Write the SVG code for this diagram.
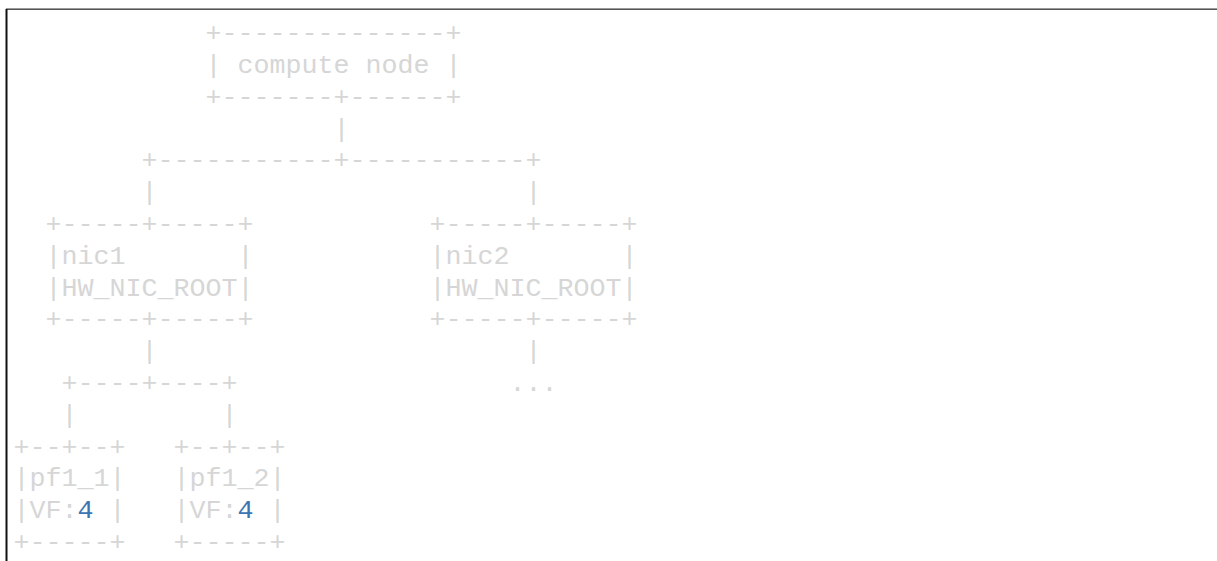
<svg xmlns="http://www.w3.org/2000/svg" width="1217" height="561" viewBox="0 0 1217 561">
<style>
.t{font-family:"Liberation Mono","Courier New",monospace;font-size:26.67px;fill:#d6d6d6;white-space:pre}
.n{fill:#3b76b2}
</style>
<rect x="0" y="0" width="1217" height="561" fill="#ffffff"/>
<line x1="6" y1="8.5" x2="1217" y2="8.5" stroke="#9a9a9a" stroke-width="1"/>
<line x1="6" y1="9.5" x2="1217" y2="9.5" stroke="#555555" stroke-width="1"/>
<line x1="6.5" y1="9" x2="6.5" y2="561" stroke="#111111" stroke-width="2"/>
<g id="connectors">
<text class="t" xml:space="preserve" x="13.5" y="136.6">                    |</text>
<text class="t" xml:space="preserve" x="13.5" y="168.4">        +-----------+-----------+</text>
<text class="t" xml:space="preserve" x="13.5" y="200.2">        |                       |</text>
<text class="t" xml:space="preserve" x="13.5" y="359.2">        |                       |</text>
<text class="t" xml:space="preserve" x="13.5" y="391">   +----+----+                 ...</text>
<text class="t" xml:space="preserve" x="13.5" y="422.8">   |         |</text>
</g>
<g id="compute-node">
<text class="t" xml:space="preserve" x="13.5" y="41.2">            +--------------+</text>
<text class="t" xml:space="preserve" x="13.5" y="73">            | compute node |</text>
<text class="t" xml:space="preserve" x="13.5" y="104.8">            +-------+------+</text>
</g>
<g id="nic1">
<text class="t" xml:space="preserve" x="13.5" y="232">  +-----+-----+</text>
<text class="t" xml:space="preserve" x="13.5" y="263.8">  |nic1       |</text>
<text class="t" xml:space="preserve" x="13.5" y="295.6">  |HW_NIC_ROOT|</text>
<text class="t" xml:space="preserve" x="13.5" y="327.4">  +-----+-----+</text>
</g>
<g id="nic2">
<text class="t" xml:space="preserve" x="429.5" y="232">+-----+-----+</text>
<text class="t" xml:space="preserve" x="429.5" y="263.8">|nic2       |</text>
<text class="t" xml:space="preserve" x="429.5" y="295.6">|HW_NIC_ROOT|</text>
<text class="t" xml:space="preserve" x="429.5" y="327.4">+-----+-----+</text>
</g>
<g id="pf1_1">
<text class="t" xml:space="preserve" x="13.5" y="454.6">+--+--+</text>
<text class="t" xml:space="preserve" x="13.5" y="486.4">|pf1_1|</text>
<text class="t" xml:space="preserve" x="13.5" y="518.2">|VF:<tspan class="n">4</tspan> |</text>
<text class="t" xml:space="preserve" x="13.5" y="550">+-----+</text>
</g>
<g id="pf1_2">
<text class="t" xml:space="preserve" x="173.5" y="454.6">+--+--+</text>
<text class="t" xml:space="preserve" x="173.5" y="486.4">|pf1_2|</text>
<text class="t" xml:space="preserve" x="173.5" y="518.2">|VF:<tspan class="n">4</tspan> |</text>
<text class="t" xml:space="preserve" x="173.5" y="550">+-----+</text>
</g>
</svg>
